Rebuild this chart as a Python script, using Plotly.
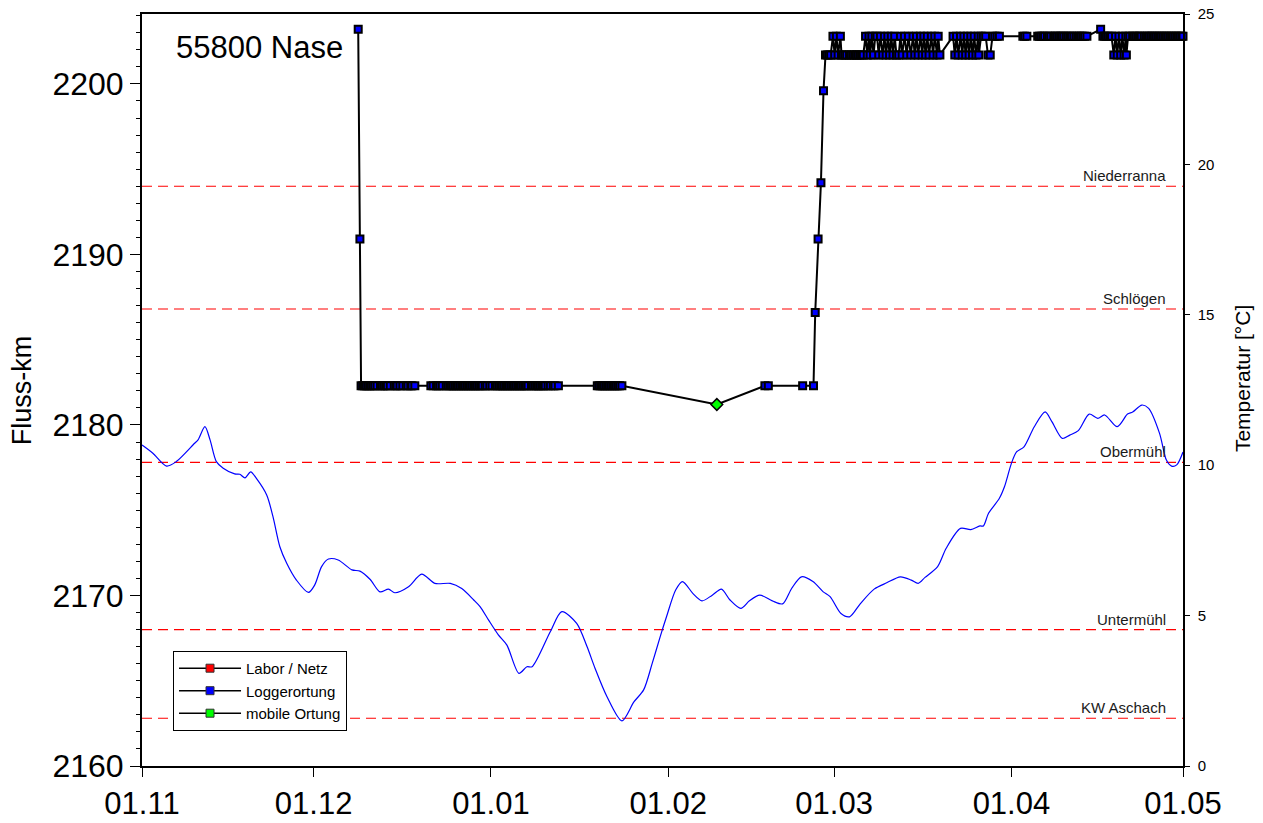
import pandas as pd
import plotly.graph_objects as go

# ---------------------------------------------------------------------------
# Data
# ---------------------------------------------------------------------------
season_start = pd.Timestamp("2011-11-01")

month_ticks = ["2011-11-01", "2011-12-01", "2012-01-01", "2012-02-01",
               "2012-03-01", "2012-04-01", "2012-05-01"]
month_labels = ["01.11", "01.12", "01.01", "01.02", "01.03", "01.04", "01.05"]

# river stations (Fluss-km)
station_names = ["Niederranna", "Schlögen", "Obermühl", "Untermühl", "KW Aschach"]
station_km = [2194.0, 2186.8, 2177.8, 2168.0, 2162.8]

# logger fixes: (days since 01.11, Fluss-km)
logger_descent = [(37.8, 2203.2), (38.1, 2190.9)]

logger_dec = [(38.3, 2182.3), (38.6, 2182.3), (38.9, 2182.3), (39.2, 2182.3), (39.5, 2182.3),
              (39.8, 2182.3), (40.1, 2182.3), (40.4, 2182.3), (40.7, 2182.3), (41.1, 2182.3),
              (41.7, 2182.3), (42.0, 2182.3), (42.3, 2182.3), (42.6, 2182.3), (42.9, 2182.3),
              (43.4, 2182.3), (44.1, 2182.3), (44.4, 2182.3), (44.6, 2182.3), (45.1, 2182.3),
              (45.6, 2182.3), (46.2, 2182.3), (46.5, 2182.3), (47.0, 2182.3), (47.2, 2182.3),
              (47.7, 2182.3)]

logger_winter = [(50.5, 2182.3), (50.9, 2182.3), (51.5, 2182.3), (51.8, 2182.3), (52.1, 2182.3),
                 (52.5, 2182.3), (53.2, 2182.3), (53.5, 2182.3), (53.8, 2182.3), (54.1, 2182.3),
                 (54.4, 2182.3), (54.7, 2182.3), (55.0, 2182.3), (55.3, 2182.3), (55.6, 2182.3),
                 (55.9, 2182.3), (56.2, 2182.3), (56.5, 2182.3), (56.8, 2182.3), (57.1, 2182.3),
                 (57.4, 2182.3), (57.7, 2182.3), (58.0, 2182.3), (58.3, 2182.3), (58.6, 2182.3),
                 (58.9, 2182.3), (59.2, 2182.3), (59.5, 2182.3), (60.0, 2182.3), (60.3, 2182.3),
                 (60.8, 2182.3), (61.2, 2182.3), (61.8, 2182.3), (62.1, 2182.3), (62.4, 2182.3),
                 (62.7, 2182.3), (63.0, 2182.3), (63.3, 2182.3), (63.6, 2182.3), (63.9, 2182.3),
                 (64.2, 2182.3), (64.5, 2182.3), (64.8, 2182.3), (65.1, 2182.3), (65.4, 2182.3),
                 (65.7, 2182.3), (66.0, 2182.3), (66.3, 2182.3), (66.6, 2182.3), (66.9, 2182.3),
                 (67.2, 2182.3), (67.5, 2182.3), (68.1, 2182.3), (68.4, 2182.3), (68.7, 2182.3),
                 (69.0, 2182.3), (69.3, 2182.3), (69.6, 2182.3), (69.9, 2182.3), (70.2, 2182.3),
                 (70.5, 2182.3), (71.0, 2182.3), (71.4, 2182.3), (71.9, 2182.3), (72.2, 2182.3),
                 (72.8, 2182.3)]

logger_jan = [(79.6, 2182.3), (79.9, 2182.3), (80.2, 2182.3), (80.5, 2182.3), (80.8, 2182.3),
              (81.1, 2182.3), (81.4, 2182.3), (81.7, 2182.3), (82.0, 2182.3), (82.3, 2182.3),
              (82.6, 2182.3), (82.9, 2182.3), (83.2, 2182.3), (83.5, 2182.3), (83.9, 2182.3)]

logger_ascent = [(108.9, 2182.3), (109.5, 2182.3), (115.5, 2182.3), (117.4, 2182.3),
                 (117.7, 2186.6), (118.2, 2190.9), (118.7, 2194.2), (119.15, 2199.6)]

logger_spring = [(119.5, 2201.7), (119.8, 2201.7), (120.1, 2201.7), (120.4, 2201.7), (120.8, 2202.8),
                 (121.1, 2201.7), (121.4, 2202.8), (121.7, 2201.7), (122.1, 2202.8), (122.3, 2201.7),
                 (122.6, 2201.7), (122.9, 2201.7), (123.2, 2201.7), (123.7, 2201.7), (124.0, 2201.7),
                 (124.3, 2201.7), (124.6, 2201.7), (124.9, 2201.7), (125.2, 2201.7), (125.5, 2201.7),
                 (125.8, 2201.7), (126.1, 2201.7), (126.5, 2202.8), (126.8, 2201.7), (127.1, 2202.8),
                 (127.3, 2201.7), (127.6, 2202.8), (127.9, 2201.7), (128.2, 2202.8), (128.5, 2202.8),
                 (128.8, 2201.7), (129.1, 2202.8), (129.5, 2201.7), (129.8, 2202.8), (130.1, 2201.7),
                 (130.4, 2202.8), (130.7, 2201.7), (131.0, 2202.8), (131.3, 2201.7), (131.6, 2202.8),
                 (131.9, 2201.7), (132.3, 2201.7), (132.6, 2202.8), (132.9, 2201.7), (133.3, 2202.8),
                 (133.7, 2201.7), (134.0, 2202.8), (134.4, 2201.7), (134.8, 2202.8), (135.1, 2201.7),
                 (135.4, 2202.8), (135.7, 2201.7), (136.1, 2202.8), (136.4, 2201.7), (136.7, 2202.8),
                 (137.0, 2201.7), (137.3, 2202.8), (137.6, 2201.7), (138.0, 2202.8), (138.3, 2201.7),
                 (138.6, 2202.8), (139.0, 2201.7), (139.2, 2202.8), (139.5, 2201.7),
                 (141.8, 2202.8), (142.1, 2201.7), (142.4, 2202.8), (142.7, 2201.7), (143.1, 2202.8),
                 (143.4, 2201.7), (143.7, 2202.8), (144.0, 2201.7), (144.3, 2202.8), (144.6, 2201.7),
                 (144.9, 2202.8), (145.2, 2201.7), (145.5, 2202.8), (145.8, 2201.7), (146.2, 2202.8),
                 (146.3, 2201.7), (146.7, 2202.8), (147.1, 2202.8), (147.5, 2202.8), (147.9, 2201.7),
                 (148.3, 2201.7), (148.7, 2202.8), (149.1, 2202.8), (149.5, 2202.8), (149.9, 2202.8),
                 (154.0, 2202.8), (154.3, 2202.8), (154.7, 2202.8),
                 (156.6, 2202.8), (156.9, 2202.8), (157.2, 2202.8), (157.5, 2202.8), (157.8, 2202.8),
                 (158.3, 2202.8), (158.6, 2202.8), (158.9, 2202.8), (159.4, 2202.8), (159.7, 2202.8),
                 (160.0, 2202.8), (160.3, 2202.8), (160.6, 2202.8), (160.9, 2202.8), (161.2, 2202.8),
                 (161.6, 2202.8), (161.9, 2202.8), (162.2, 2202.8), (162.5, 2202.8), (162.9, 2202.8),
                 (163.3, 2202.8), (163.6, 2202.8), (163.9, 2202.8), (164.2, 2202.8), (164.5, 2202.8),
                 (164.8, 2202.8), (165.2, 2202.8),
                 (167.6, 2203.2),
                 (168.0, 2202.8), (168.3, 2202.8), (168.6, 2202.8), (168.9, 2202.8), (169.2, 2202.8),
                 (169.5, 2202.8), (169.9, 2201.7), (170.2, 2202.8), (170.5, 2201.7), (170.8, 2202.8),
                 (171.1, 2201.7), (171.4, 2202.8), (171.7, 2201.7), (172.0, 2202.8), (172.1, 2201.7),
                 (172.4, 2202.8), (172.7, 2202.8), (173.2, 2202.8), (173.5, 2202.8), (173.8, 2202.8),
                 (174.1, 2202.8), (174.4, 2202.8), (174.7, 2202.8), (175.2, 2202.8), (175.5, 2202.8),
                 (175.8, 2202.8), (176.1, 2202.8), (176.4, 2202.8), (176.7, 2202.8), (177.0, 2202.8),
                 (177.3, 2202.8), (177.6, 2202.8), (177.9, 2202.8), (178.2, 2202.8), (178.5, 2202.8),
                 (178.8, 2202.8), (179.1, 2202.8), (179.4, 2202.8), (179.7, 2202.8), (180.0, 2202.8),
                 (180.3, 2202.8), (180.6, 2202.8), (180.9, 2202.8), (181.2, 2202.8), (181.5, 2202.8),
                 (181.8, 2202.8), (182.0, 2202.8)]

# mobile tracking fix
mobile_fixes = [(100.5, 2181.2)]

# water temperature (days since 01.11, °C)
temp_day = [0.0, 1.9, 4.3, 6.0, 9.2, 9.8, 11.0, 11.9, 13.0, 14.2, 16.2, 17.1, 18.0, 19.0, 20.0,
            21.8, 22.9, 24.1, 25.3, 27.0, 29.1, 30.2, 31.4, 32.6, 34.3, 36.7, 38.1, 39.9, 41.6,
            43.1, 44.2, 46.6, 48.9, 51.2, 53.9, 55.9, 58.0, 59.1, 60.6, 62.3, 63.8, 65.9, 67.3,
            68.2, 71.4, 73.4, 76.0, 77.8, 79.2, 81.3, 83.9, 86.0, 87.7, 89.2, 90.6, 91.7, 93.3,
            94.5, 96.3, 97.9, 99.7, 101.3, 102.8, 104.7, 106.2, 108.0, 110.2, 112.0, 113.6, 115.3,
            117.3, 119.1, 120.3, 122.2, 123.7, 125.6, 128.0, 130.2, 132.6, 134.5, 135.7, 136.9,
            139.1, 140.6, 143.1, 144.9, 146.5, 147.1, 148.0, 149.9, 150.8, 152.0, 152.9, 154.2,
            156.0, 157.9, 159.1, 160.9, 162.2, 163.7, 165.6, 167.1, 168.3, 170.5, 172.3, 173.2,
            174.8, 176.0, 177.9, 179.1, 180.0, 180.9, 182.0]
temp_c = [10.67, 10.40, 9.97, 10.12, 10.73, 10.84, 11.28, 10.84, 10.12, 9.90, 9.71, 9.70, 9.58,
          9.78, 9.56, 9.01, 8.29, 7.29, 6.74, 6.18, 5.77, 6.02, 6.63, 6.88, 6.85, 6.52, 6.48,
          6.20, 5.79, 5.88, 5.76, 5.96, 6.38, 6.07, 6.07, 5.90, 5.52, 5.30, 4.85, 4.36, 4.02,
          3.08, 3.30, 3.30, 4.47, 5.13, 4.74, 3.97, 3.25, 2.30, 1.50, 2.13, 2.53, 3.41, 4.30,
          4.96, 5.85, 6.13, 5.74, 5.49, 5.68, 5.88, 5.52, 5.24, 5.49, 5.68, 5.49, 5.39, 5.91,
          6.29, 6.13, 5.79, 5.63, 5.07, 4.96, 5.40, 5.88, 6.09, 6.29, 6.18, 6.07, 6.27, 6.63,
          7.24, 7.90, 7.86, 7.98, 7.98, 8.40, 8.90, 9.29, 10.06, 10.44, 10.61, 11.28, 11.77,
          11.44, 10.89, 11.00, 11.15, 11.70, 11.56, 11.67, 11.28, 11.70, 11.77, 12.00, 11.89,
          11.06, 10.17, 9.97, 10.01, 10.44]

# ---------------------------------------------------------------------------
# Helpers
# ---------------------------------------------------------------------------
def to_time(days):
    return list(season_start + pd.to_timedelta(list(days), unit="D"))


def split(fixes):
    return to_time([f[0] for f in fixes]), [f[1] for f in fixes]


logger_fixes = (logger_descent + logger_dec + logger_winter + logger_jan
                + logger_ascent + logger_spring)
track = sorted(logger_fixes + mobile_fixes)

FONT = "Liberation Sans, Arial, sans-serif"

fig = go.Figure()

# complete track (black connecting line)
tx, ty = split(track)
fig.add_trace(go.Scatter(x=tx, y=ty, mode="lines", line=dict(color="black", width=2),
                         showlegend=False, hoverinfo="skip"))

# logger fixes
lx, ly = split(logger_fixes)
fig.add_trace(go.Scatter(x=lx, y=ly, mode="markers", cliponaxis=False,
                         marker=dict(symbol="square", size=7, color="#0000FF",
                                     line=dict(color="black", width=2)),
                         showlegend=False))

# mobile fix
mx, my = split(mobile_fixes)
fig.add_trace(go.Scatter(x=mx, y=my, mode="markers",
                         marker=dict(symbol="diamond", size=9, color="#00FF00",
                                     line=dict(color="black", width=1.5)),
                         showlegend=False))

# legend entries
for name, col in [("Labor / Netz", "#FF0000"), ("Loggerortung", "#0000FF"),
                  ("mobile Ortung", "#00FF00")]:
    fig.add_trace(go.Scatter(x=[None], y=[None], mode="lines+markers", name=name,
                             line=dict(color="black", width=1.5),
                             marker=dict(symbol="square", size=8, color=col,
                                         line=dict(color="#333333", width=1))))

# temperature on secondary axis
fig.add_trace(go.Scatter(x=to_time(temp_day), y=temp_c, yaxis="y2", mode="lines",
                         line=dict(color="#0000FF", width=1.2, shape="spline", smoothing=0.8),
                         showlegend=False))

# station reference lines
for name, km in zip(station_names, station_km):
    fig.add_shape(type="line", xref="paper", x0=0, x1=1, yref="y", y0=km, y1=km,
                  line=dict(color="#FF0000", width=1.2, dash="10px,6px"), layer="below")
    fig.add_annotation(xref="paper", x=0.9855, yref="y", y=km, text=name, showarrow=False,
                       xanchor="right", yanchor="bottom", yshift=0,
                       font=dict(family=FONT, size=15, color="#1a1a1a"))

fig.add_annotation(xref="paper", x=0.031, yref="paper", y=0.955, text="55800 Nase",
                   showarrow=False, xanchor="left", yanchor="middle",
                   font=dict(family=FONT, size=31, color="black"))

fig.add_annotation(xref="paper", x=-0.115, yref="paper", y=0.50, text="Fluss-km",
                   textangle=-90, showarrow=False, xanchor="center", yanchor="middle",
                   font=dict(family=FONT, size=27, color="black"))
fig.add_annotation(xref="paper", x=1.057, yref="paper", y=0.515, text="Temperatur [°C]",
                   textangle=-90, showarrow=False, xanchor="center", yanchor="middle",
                   font=dict(family=FONT, size=21, color="black"))

fig.update_layout(
    width=1263, height=823,
    margin=dict(l=142, r=80, t=14, b=57),
    paper_bgcolor="white", plot_bgcolor="white",
    font=dict(family=FONT, color="black"),
    xaxis=dict(type="date", range=[month_ticks[0], month_ticks[-1]],
               tickvals=month_ticks, ticktext=month_labels, automargin=False,
               ticks="outside", ticklen=9, tickwidth=1, tickcolor="black",
               tickfont=dict(size=31), showgrid=False, zeroline=False,
               showline=True, linecolor="black", linewidth=2, mirror=True),
    yaxis=dict(range=[2160, 2204.1], tickvals=[2160, 2170, 2180, 2190, 2200], automargin=False,
               ticks="outside", ticklen=10, tickwidth=1, tickcolor="black",
               minor=dict(dtick=1, ticks="outside", ticklen=4, tickcolor="black"),
               tickfont=dict(size=32), showgrid=False, zeroline=False,
               showline=True, linecolor="black", linewidth=2),
    yaxis2=dict(range=[0, 25], tickvals=[0, 5, 10, 15, 20, 25], overlaying="y", side="right",
                automargin=False, ticklabelstandoff=5,
                ticks="outside", ticklen=5, tickwidth=1, tickcolor="black",
                tickfont=dict(size=15), showgrid=False, zeroline=False,
                showline=True, linecolor="black", linewidth=1.5),
    legend=dict(x=0.0298, y=0.153, xanchor="left", yanchor="top", itemwidth=62,
                bgcolor="white", bordercolor="black", borderwidth=1,
                font=dict(family=FONT, size=15, color="black"), tracegroupgap=0),
)

fig.write_html("out.html")
